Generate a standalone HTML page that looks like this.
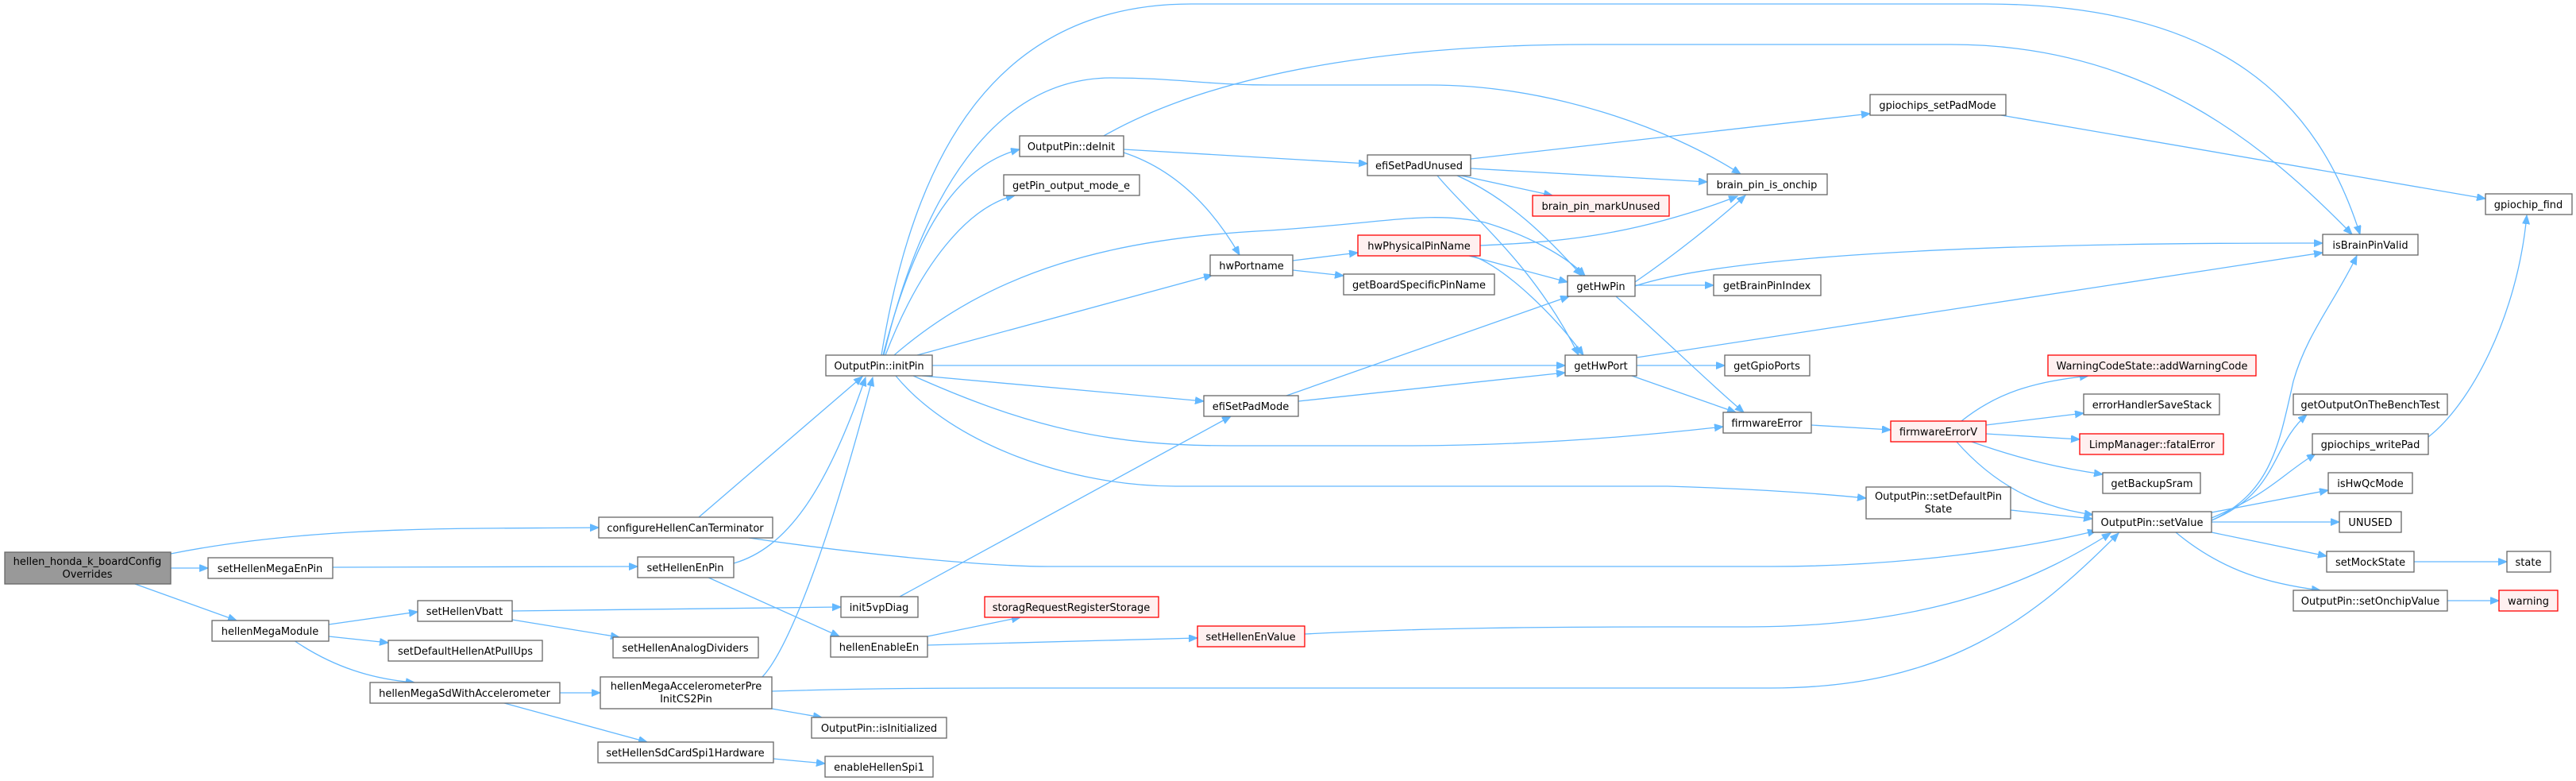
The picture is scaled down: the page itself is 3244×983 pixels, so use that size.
<!DOCTYPE html>
<html><head><meta charset="utf-8"><style>
html,body{margin:0;padding:0;background:#fff;}
svg{display:block;}
text{font-family:"DejaVu Sans","Liberation Sans",sans-serif;font-size:13px;fill:#000;text-anchor:middle;}
.n{fill:#fff;stroke:#666;stroke-width:1.3;}
.r{fill:#fff0f0;stroke:#ff0000;stroke-width:1.3;}
.g{fill:#999;stroke:#666;stroke-width:1.3;}
.e{fill:none;stroke:#63b8ff;stroke-width:1.3;}
</style></head><body>
<svg width="3244" height="983" viewBox="0 0 3244 983" xmlns="http://www.w3.org/2000/svg">
<defs>
<marker id="a" markerUnits="userSpaceOnUse" markerWidth="12" markerHeight="10" refX="11" refY="4.5" orient="auto">
<path d="M0,0 L11,4.5 L0,9 z" fill="#63b8ff" stroke="#63b8ff"/>
</marker>
</defs>
<g class="edges">
<path class="e" marker-end="url(#a)" d="M215,697 C400,660 600,666 754,664"/>
<path class="e" marker-end="url(#a)" d="M215,715 L262,715"/>
<path class="e" marker-end="url(#a)" d="M170,735 L298,781"/>
<path class="e" marker-end="url(#a)" d="M419,714 L803,713"/>
<path class="e" marker-end="url(#a)" d="M880,651 L1086,474"/>
<path class="e" marker-end="url(#a)" d="M943,677 C1100,700 1250,713 1320,713 L2230,713 C2400,713 2550,690 2640,668"/>
<path class="e" marker-end="url(#a)" d="M924,709 C990,690 1040,620 1090,475"/>
<path class="e" marker-end="url(#a)" d="M890,726 L1057,801"/>
<path class="e" marker-end="url(#a)" d="M414,786 L526,770"/>
<path class="e" marker-end="url(#a)" d="M414,801 L489,809"/>
<path class="e" marker-end="url(#a)" d="M370,806 C420,840 470,855 522,859"/>
<path class="e" marker-end="url(#a)" d="M645,769 L1059,764"/>
<path class="e" marker-end="url(#a)" d="M645,780 L780,802"/>
<path class="e" marker-end="url(#a)" d="M705,872 L756,872"/>
<path class="e" marker-end="url(#a)" d="M635,885 L815,934"/>
<path class="e" marker-end="url(#a)" d="M960,852 C990,820 1040,700 1099,475"/>
<path class="e" marker-end="url(#a)" d="M972,870 C1100,866 1200,866 1300,866 L2230,866 C2450,866 2560,780 2668,671"/>
<path class="e" marker-end="url(#a)" d="M972,892 L1035,903"/>
<path class="e" marker-end="url(#a)" d="M974,955 L1039,961"/>
<path class="e" marker-end="url(#a)" d="M1133,751 L1550,524"/>
<path class="e" marker-end="url(#a)" d="M1168,801 L1285,777"/>
<path class="e" marker-end="url(#a)" d="M1168,812 L1508,803"/>
<path class="e" marker-end="url(#a)" d="M1643,798 C1800,790 1950,789 2100,789 L2200,789 C2450,789 2580,720 2658,671"/>
<path class="e" marker-end="url(#a)" d="M1110,447 C1150,200 1250,5 1500,5 L2500,5 C2800,5 2920,130 2972,295"/>
<path class="e" marker-end="url(#a)" d="M1113,447 C1160,250 1250,98 1400,98 C1480,98 1520,107 1600,107 L1800,107 C1950,107 2100,160 2192,219"/>
<path class="e" marker-end="url(#a)" d="M1390,171 C1550,80 1800,56 2000,56 L2457,56 C2700,56 2850,180 2962,295"/>
<path class="e" marker-end="url(#a)" d="M1112,447 C1150,300 1200,210 1284,188"/>
<path class="e" marker-end="url(#a)" d="M1115,447 C1160,330 1220,260 1278,246"/>
<path class="e" marker-end="url(#a)" d="M1126,447 C1250,340 1400,300 1600,290 C1750,280 1800,265 1870,280 C1920,295 1970,320 1996,347"/>
<path class="e" marker-end="url(#a)" d="M1155,447 L1527,346"/>
<path class="e" marker-end="url(#a)" d="M1174,460 L1971,460"/>
<path class="e" marker-end="url(#a)" d="M1161,473 L1516,505"/>
<path class="e" marker-end="url(#a)" d="M1150,473 C1300,540 1400,561 1550,561 L1770,561 C1950,561 2100,545 2170,537"/>
<path class="e" marker-end="url(#a)" d="M1128,473 C1200,560 1350,612 1480,612 L2100,612 C2200,615 2280,620 2350,627"/>
<path class="e" marker-end="url(#a)" d="M1415,188 L1722,206"/>
<path class="e" marker-end="url(#a)" d="M1415,192 C1470,210 1520,250 1561,321"/>
<path class="e" marker-end="url(#a)" d="M1628,328 L1710,318"/>
<path class="e" marker-end="url(#a)" d="M1628,340 L1692,347"/>
<path class="e" marker-end="url(#a)" d="M1850,322 L1974,355"/>
<path class="e" marker-end="url(#a)" d="M1855,322 C1900,340 1960,400 1994,447"/>
<path class="e" marker-end="url(#a)" d="M1864,309 C1950,305 2050,300 2188,247"/>
<path class="e" marker-end="url(#a)" d="M1852,200 L2355,143"/>
<path class="e" marker-end="url(#a)" d="M1852,212 L2150,229"/>
<path class="e" marker-end="url(#a)" d="M1840,221 L1955,246"/>
<path class="e" marker-end="url(#a)" d="M1835,221 C1900,250 1950,300 1992,347"/>
<path class="e" marker-end="url(#a)" d="M1810,221 C1850,270 1930,330 1988,447"/>
<path class="e" marker-end="url(#a)" d="M2059,355 C2110,320 2160,280 2198,246"/>
<path class="e" marker-end="url(#a)" d="M2059,360 C2150,330 2400,305 2925,306"/>
<path class="e" marker-end="url(#a)" d="M2059,359 L2158,359"/>
<path class="e" marker-end="url(#a)" d="M2035,373 C2100,430 2150,480 2196,519"/>
<path class="e" marker-end="url(#a)" d="M2061,460 L2172,460"/>
<path class="e" marker-end="url(#a)" d="M2061,450 L2925,318"/>
<path class="e" marker-end="url(#a)" d="M2055,473 L2186,519"/>
<path class="e" marker-end="url(#a)" d="M1620,498 L1976,373"/>
<path class="e" marker-end="url(#a)" d="M1635,505 L1971,469"/>
<path class="e" marker-end="url(#a)" d="M2281,535 L2381,541"/>
<path class="e" marker-end="url(#a)" d="M2470,530 C2520,490 2570,480 2630,473"/>
<path class="e" marker-end="url(#a)" d="M2501,535 L2624,520"/>
<path class="e" marker-end="url(#a)" d="M2501,546 L2619,553"/>
<path class="e" marker-end="url(#a)" d="M2480,555 C2550,580 2600,590 2648,597"/>
<path class="e" marker-end="url(#a)" d="M2463,555 C2520,620 2580,640 2636,648"/>
<path class="e" marker-end="url(#a)" d="M2532,642 L2635,653"/>
<path class="e" marker-end="url(#a)" d="M2785,655 C2860,620 2870,560 2888,480 C2905,420 2940,380 2968,322"/>
<path class="e" marker-end="url(#a)" d="M2785,655 C2870,620 2860,560 2905,522"/>
<path class="e" marker-end="url(#a)" d="M2785,652 C2860,620 2870,600 2916,571"/>
<path class="e" marker-end="url(#a)" d="M2785,645 L2932,617"/>
<path class="e" marker-end="url(#a)" d="M2785,657 L2946,657"/>
<path class="e" marker-end="url(#a)" d="M2785,670 L2930,700"/>
<path class="e" marker-end="url(#a)" d="M2740,670 C2800,720 2860,735 2922,743"/>
<path class="e" marker-end="url(#a)" d="M3040,707 L3157,707"/>
<path class="e" marker-end="url(#a)" d="M3082,756 L3147,756"/>
<path class="e" marker-end="url(#a)" d="M3058,550 C3110,510 3170,400 3182,271"/>
<path class="e" marker-end="url(#a)" d="M2520,145 L3130,250"/>
</g>
<g class="nodes">
<rect class="g" x="6" y="695" width="209" height="40"/><text x="110" y="711">hellen_honda_k_boardConfig</text><text x="110" y="727">Overrides</text>
<rect class="n" x="262" y="702" width="157" height="26"/><text x="340" y="720">setHellenMegaEnPin</text>
<rect class="n" x="754" y="651" width="219" height="26"/><text x="863" y="669">configureHellenCanTerminator</text>
<rect class="n" x="803" y="701" width="121" height="26"/><text x="863" y="719">setHellenEnPin</text>
<rect class="n" x="267" y="781" width="147" height="26"/><text x="340" y="799">hellenMegaModule</text>
<rect class="n" x="526" y="756" width="119" height="26"/><text x="585" y="774">setHellenVbatt</text>
<rect class="n" x="489" y="806" width="194" height="26"/><text x="586" y="824">setDefaultHellenAtPullUps</text>
<rect class="n" x="772" y="802" width="183" height="26"/><text x="863" y="820">setHellenAnalogDividers</text>
<rect class="n" x="466" y="859" width="239" height="26"/><text x="585" y="877">hellenMegaSdWithAccelerometer</text>
<rect class="n" x="756" y="852" width="216" height="40"/><text x="864" y="868">hellenMegaAccelerometerPre</text><text x="864" y="884">InitCS2Pin</text>
<rect class="n" x="753" y="934" width="221" height="26"/><text x="863" y="952">setHellenSdCardSpi1Hardware</text>
<rect class="n" x="1516" y="498" width="119" height="26"/><text x="1575" y="516">efiSetPadMode</text>
<rect class="n" x="1059" y="751" width="97" height="26"/><text x="1107" y="769">init5vpDiag</text>
<rect class="r" x="1240" y="751" width="219" height="26"/><text x="1349" y="769">storagRequestRegisterStorage</text>
<rect class="n" x="1046" y="801" width="122" height="26"/><text x="1107" y="819">hellenEnableEn</text>
<rect class="r" x="1508" y="788" width="135" height="26"/><text x="1575" y="806">setHellenEnValue</text>
<rect class="n" x="1022" y="903" width="170" height="26"/><text x="1107" y="921">OutputPin::isInitialized</text>
<rect class="n" x="1039" y="952" width="136" height="26"/><text x="1107" y="970">enableHellenSpi1</text>
<rect class="n" x="1284" y="171" width="131" height="26"/><text x="1349" y="189">OutputPin::deInit</text>
<rect class="n" x="1264" y="220" width="171" height="26"/><text x="1349" y="238">getPin_output_mode_e</text>
<rect class="n" x="1722" y="195" width="130" height="26"/><text x="1787" y="213">efiSetPadUnused</text>
<rect class="r" x="1930" y="246" width="172" height="26"/><text x="2016" y="264">brain_pin_markUnused</text>
<rect class="r" x="1710" y="296" width="154" height="26"/><text x="1787" y="314">hwPhysicalPinName</text>
<rect class="n" x="1524" y="321" width="104" height="26"/><text x="1576" y="339">hwPortname</text>
<rect class="n" x="1692" y="345" width="190" height="26"/><text x="1787" y="363">getBoardSpecificPinName</text>
<rect class="n" x="1974" y="347" width="85" height="26"/><text x="2016" y="365">getHwPin</text>
<rect class="n" x="1040" y="447" width="134" height="26"/><text x="1107" y="465">OutputPin::initPin</text>
<rect class="n" x="1971" y="447" width="90" height="26"/><text x="2016" y="465">getHwPort</text>
<rect class="n" x="2355" y="119" width="171" height="26"/><text x="2440" y="137">gpiochips_setPadMode</text>
<rect class="n" x="2150" y="219" width="151" height="26"/><text x="2225" y="237">brain_pin_is_onchip</text>
<rect class="n" x="3130" y="244" width="109" height="26"/><text x="3184" y="262">gpiochip_find</text>
<rect class="n" x="2925" y="295" width="120" height="26"/><text x="2985" y="313">isBrainPinValid</text>
<rect class="n" x="2158" y="346" width="135" height="26"/><text x="2225" y="364">getBrainPinIndex</text>
<rect class="n" x="2172" y="447" width="107" height="26"/><text x="2225" y="465">getGpioPorts</text>
<rect class="r" x="2579" y="447" width="262" height="26"/><text x="2710" y="465">WarningCodeState::addWarningCode</text>
<rect class="n" x="2170" y="519" width="111" height="26"/><text x="2225" y="537">firmwareError</text>
<rect class="r" x="2381" y="530" width="120" height="26"/><text x="2441" y="548">firmwareErrorV</text>
<rect class="n" x="2624" y="496" width="171" height="26"/><text x="2710" y="514">errorHandlerSaveStack</text>
<rect class="r" x="2619" y="546" width="181" height="26"/><text x="2710" y="564">LimpManager::fatalError</text>
<rect class="n" x="2648" y="595" width="123" height="26"/><text x="2710" y="613">getBackupSram</text>
<rect class="n" x="2888" y="496" width="194" height="26"/><text x="2985" y="514">getOutputOnTheBenchTest</text>
<rect class="n" x="2912" y="546" width="146" height="26"/><text x="2985" y="564">gpiochips_writePad</text>
<rect class="n" x="2932" y="595" width="106" height="26"/><text x="2985" y="613">isHwQcMode</text>
<rect class="n" x="2350" y="613" width="182" height="40"/><text x="2441" y="629">OutputPin::setDefaultPin</text><text x="2441" y="645">State</text>
<rect class="n" x="2635" y="644" width="150" height="26"/><text x="2710" y="662">OutputPin::setValue</text>
<rect class="n" x="2946" y="644" width="78" height="26"/><text x="2985" y="662">UNUSED</text>
<rect class="n" x="2930" y="694" width="110" height="26"/><text x="2985" y="712">setMockState</text>
<rect class="n" x="3157" y="694" width="55" height="26"/><text x="3184" y="712">state</text>
<rect class="n" x="2888" y="743" width="194" height="26"/><text x="2985" y="761">OutputPin::setOnchipValue</text>
<rect class="r" x="3147" y="743" width="74" height="26"/><text x="3184" y="761">warning</text>
</g>
</svg>
</body></html>
